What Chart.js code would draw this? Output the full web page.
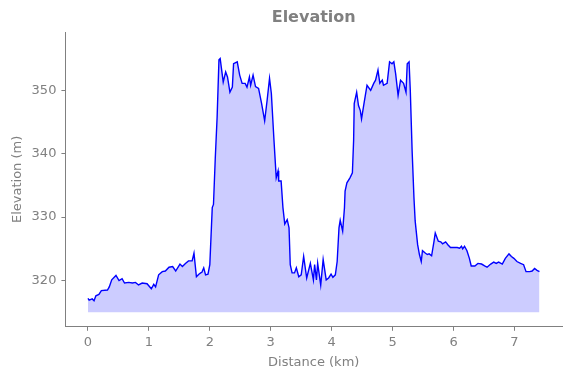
<!DOCTYPE html>
<html>
<head>
<meta charset="utf-8">
<script src="https://cdn.jsdelivr.net/npm/chart.js@4/dist/chart.umd.min.js"></script>
<style>
  html, body { margin: 0; padding: 0; background: #fff; }
  #wrap { width: 571px; height: 378px; position: relative; }
</style>
</head>
<body>
<div id="wrap"><canvas id="elevChart"></canvas></div>
<script>
// distance along the route (km)
const distance = [
  0.00, 0.02, 0.07, 0.10, 0.13, 0.18, 0.22, 0.32, 0.35, 0.39, 0.46, 0.51, 0.56, 0.60, 0.67, 0.73,
  0.78, 0.83, 0.89, 0.97, 1.04, 1.08, 1.11, 1.16, 1.22, 1.27, 1.33, 1.39, 1.44, 1.51, 1.55, 1.60,
  1.65, 1.71, 1.74, 1.78, 1.82, 1.85, 1.87, 1.90, 1.93, 1.97, 2.00, 2.04, 2.06, 2.09, 2.12, 2.15,
  2.17, 2.22, 2.26, 2.29, 2.33, 2.37, 2.39, 2.45, 2.49, 2.53, 2.58, 2.61, 2.65, 2.67, 2.71, 2.75,
  2.80, 2.85, 2.90, 2.94, 2.98, 3.01, 3.05, 3.09, 3.12, 3.13, 3.17, 3.20, 3.23, 3.27, 3.30, 3.32,
  3.35, 3.39, 3.42, 3.46, 3.50, 3.54, 3.59, 3.65, 3.70, 3.72, 3.75, 3.77, 3.82, 3.86, 3.91, 3.95,
  3.99, 4.02, 4.06, 4.09, 4.12, 4.14, 4.18, 4.21, 4.22, 4.25, 4.30, 4.34, 4.36, 4.37, 4.41, 4.44,
  4.47, 4.49, 4.53, 4.58, 4.64, 4.69, 4.72, 4.76, 4.79, 4.83, 4.85, 4.91, 4.95, 4.99, 5.02, 5.05,
  5.09, 5.13, 5.18, 5.22, 5.24, 5.27, 5.29, 5.32, 5.35, 5.37, 5.41, 5.44, 5.47, 5.49, 5.54, 5.57,
  5.60, 5.64, 5.68, 5.70, 5.75, 5.79, 5.82, 5.87, 5.91, 5.95, 6.00, 6.06, 6.10, 6.13, 6.15, 6.18,
  6.22, 6.26, 6.29, 6.35, 6.40, 6.46, 6.51, 6.55, 6.61, 6.66, 6.70, 6.74, 6.80, 6.85, 6.91, 6.95,
  6.99, 7.04, 7.10, 7.15, 7.19, 7.25, 7.29, 7.33, 7.37, 7.41
];
// elevation (m)
const elevation = [
  317.2, 316.9, 317.1, 316.8, 317.6, 317.8, 318.4, 318.5, 319.0, 320.1, 320.8, 320.0, 320.3, 319.6, 319.7, 319.6,
  319.7, 319.3, 319.6, 319.5, 318.7, 319.4, 319.0, 320.9, 321.4, 321.5, 322.1, 322.2, 321.5, 322.6, 322.2, 322.7,
  323.1, 323.1, 324.3, 320.6, 321.0, 321.2, 321.3, 322.0, 320.9, 321.0, 322.5, 331.5, 332.0, 339.4, 345.8, 354.8,
  355.0, 351.3, 352.9, 352.1, 349.7, 350.5, 354.2, 354.5, 352.4, 351.1, 351.1, 350.5, 352.1, 350.8, 352.4, 350.6,
  350.3, 347.9, 345.2, 348.4, 351.9, 349.5, 342.6, 336.2, 337.3, 335.7, 335.7, 331.5, 328.9, 329.6, 328.3, 322.5,
  321.2, 321.2, 322.0, 320.6, 320.9, 323.8, 320.4, 322.7, 320.1, 322.5, 320.1, 322.7, 319.3, 323.3, 320.1, 320.4,
  321.0, 320.5, 320.9, 323.0, 328.3, 329.5, 327.8, 331.5, 334.1, 335.4, 336.2, 337.0, 342.1, 347.9, 349.7, 347.6,
  346.8, 345.5, 347.9, 350.8, 350.0, 351.1, 351.6, 353.2, 351.1, 351.6, 350.8, 351.1, 354.5, 354.2, 354.5, 352.6,
  349.2, 351.6, 351.1, 349.7, 354.2, 354.5, 350.0, 340.5, 333.1, 329.4, 325.7, 324.1, 323.0, 324.7, 324.3, 324.1,
  324.2, 323.9, 326.2, 327.5, 326.2, 326.1, 325.8, 326.1, 325.6, 325.2, 325.2, 325.2, 325.1, 325.4, 325.0, 325.4,
  324.7, 323.5, 322.3, 322.3, 322.7, 322.6, 322.3, 322.1, 322.6, 322.9, 322.7, 322.9, 322.6, 323.5, 324.2, 323.8,
  323.5, 323.0, 322.7, 322.5, 321.4, 321.4, 321.5, 321.9, 321.6, 321.4
];
const xTicks = [0, 1, 2, 3, 4, 5, 6, 7];
const yTicks = [320, 330, 340, 350];
const fillBase = 315;
const chartTitle = 'Elevation';

const grey = '#808080';
const ctx = document.getElementById('elevChart');

// title centred over the plot area, not the whole canvas
const axesTitle = {
  id: 'axesTitle',
  afterDraw(chart) {
    const c = chart.ctx, a = chart.chartArea;
    c.save();
    c.font = 'bold 16px "DejaVu Sans"';
    c.fillStyle = grey;
    c.textAlign = 'center';
    c.textBaseline = 'middle';
    c.fillText(chartTitle, (a.left + a.right) / 2, 18);
    c.restore();
  }
};

new Chart(ctx, {
  type: 'line',
  data: {
    datasets: [{
      label: 'Elevation',
      data: distance.map((d, i) => ({ x: d, y: elevation[i] })),
      borderColor: '#0000ff',
      borderWidth: 1.4,
      backgroundColor: 'rgba(0, 0, 255, 0.2)',
      fill: { value: fillBase },
      pointRadius: 0,
      tension: 0
    }]
  },
  options: {
    responsive: true,
    maintainAspectRatio: false,
    animation: false,
    layout: { padding: { left: 10, right: 9, top: 32, bottom: 6 } },
    scales: {
      x: {
        type: 'linear',
        min: -0.37,
        max: 7.78,
        afterBuildTicks: s => { s.ticks = xTicks.map(v => ({ value: v })) },
        grid: { display: true, drawOnChartArea: false, drawTicks: true, tickLength: 4, color: grey },
        border: { display: true, color: grey, width: 1 },
        ticks: { color: grey, padding: 4, font: { family: 'DejaVu Sans', size: 13 } },
        title: { display: true, text: 'Distance (km)', color: grey, padding: { top: 0, bottom: 2 }, font: { family: 'DejaVu Sans', size: 13 } }
      },
      y: {
        min: 312.7,
        max: 359.2,
        afterBuildTicks: s => { s.ticks = yTicks.map(v => ({ value: v })) },
        grid: { display: true, drawOnChartArea: false, drawTicks: true, tickLength: 4, color: grey },
        border: { display: true, color: grey, width: 1 },
        ticks: { color: grey, padding: 5, font: { family: 'DejaVu Sans', size: 13 } },
        title: { display: true, text: 'Elevation (m)', color: grey, padding: { top: 0, bottom: 1 }, font: { family: 'DejaVu Sans', size: 13 } }
      }
    },
    plugins: {
      legend: { display: false },
      tooltip: { enabled: false },
      title: { display: false }
    }
  },
  plugins: [axesTitle]
});
</script>
</body>
</html>
